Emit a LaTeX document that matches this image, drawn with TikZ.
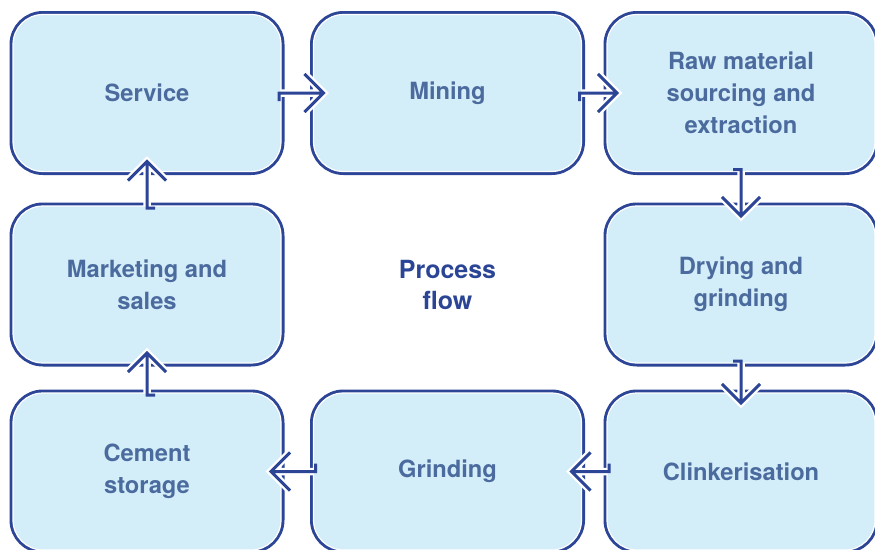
\documentclass[tikz,border=0pt]{standalone}
\usepackage{fontspec}
\setsansfont{TeX Gyre Heros}
\usetikzlibrary{positioning,calc}
\definecolor{boxfill}{HTML}{D3EDF9}
\definecolor{boxline}{HTML}{2C4597}
\definecolor{boxtext}{HTML}{4B6B9E}
\definecolor{titletext}{HTML}{2B4596}

\begin{document}
\begin{tikzpicture}[x=1pt,y=-1pt,
    stage/.style={rectangle, rounded corners=30pt, minimum width=268pt, minimum height=157pt,
      outer sep=0pt, preaction={draw=boxline, line width=7pt},
      fill=boxfill, draw=white, line width=1.2pt, align=center, text=boxtext,
      font=\sffamily\bfseries\fontsize{23.7}{32}\selectfont},
    halo/.style={draw=white, line width=7.5pt, line join=miter},
    flow/.style={draw=boxline, line width=3pt, line join=miter}]
    \useasboundingbox (0,0) rectangle (875,549);
    % top row
    \node[stage] (service) at (147,93) {Service};
    \node[stage, right=32.5pt of service] (mining) {Mining};
    \node[stage, right=25.5pt of mining] (raw) {Raw material\\sourcing and\\extraction};
    % right column, bottom row
    \node[stage, below=34.5pt of raw] (drying) {Drying and\\grinding};
    \node[stage, below=30pt of drying] (clinker) {Clinkerisation};
    \node[stage, left=25.5pt of clinker] (grinding) {Grinding};
    \node[stage, left=32.5pt of grinding] (cement) {Cement\\storage};
    \node[stage, below=34.5pt of service] (marketing) {Marketing and\\sales};
    \node[align=center, text=titletext, font=\sffamily\bfseries\fontsize{25}{31}\selectfont]
        (title) at (mining |- marketing) {Process\\flow};
    % connectors: white halo, then the blue line joined to the border on the inner side
    \foreach \a/\b/\ox/\oy in {service.east/mining.west/0/8, mining.east/raw.west/0/8,
        raw.south/drying.north/-8/0, drying.south/clinker.north/-8/0,
        clinker.west/grinding.east/0/-8, grinding.west/cement.east/0/-8,
        cement.north/marketing.south/8/0, marketing.north/service.south/8/0}
    {
        \coordinate (start) at ($(\a)!-2pt!(\b)$);
        \coordinate (tip) at ($(\b)!-10pt!(\a)$);
        \draw[halo] (\a) -- (tip) ($(tip)!27pt!45:(\a)$) -- (tip) -- ($(tip)!27pt!-45:(\a)$);
        \draw[flow] ($(start)+(\ox,\oy)$) -- (start) -- (tip)
            ($(tip)!27pt!45:(\a)$) -- (tip) -- ($(tip)!27pt!-45:(\a)$);
    }
\end{tikzpicture}
\end{document}
